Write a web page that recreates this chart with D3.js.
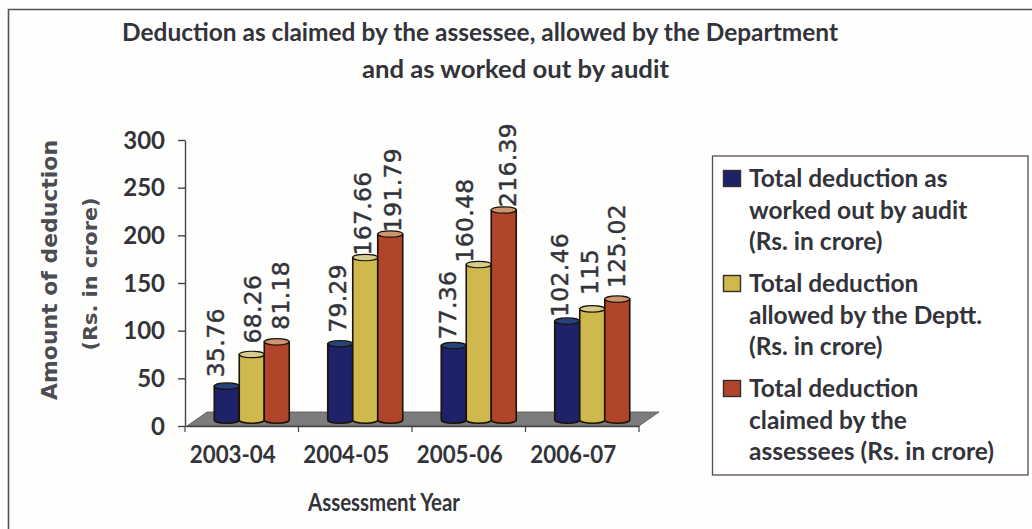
<!DOCTYPE html>
<html><head><meta charset="utf-8">
<script src="https://cdn.jsdelivr.net/npm/d3@7/dist/d3.min.js"></script>
<style>html,body{margin:0;padding:0;background:#fefefd}svg{display:block}text{fill:#33333a}</style>
</head><body><svg id="c" width="1032" height="529"></svg>
<script>
const categories = ["2003-04","2004-05","2005-06","2006-07"];
const audit   = [35.76,79.29,77.36,102.46];
const allowed = [68.26,167.66,160.48,115];
const claimed = [81.18,191.79,216.39,125.02];
const yTicks  = [0,50,100,150,200,250,300];
const seriesColors = ["#1e2268","#cfb94e","#b0452c"];
const seriesTops   = ["#24427c","#d6cc8c","#cc9670"];
const legendLines = [
  ["Total deduction as","worked out by audit","(Rs. in crore)"],
  ["Total deduction","allowed by the Deptt.","(Rs. in crore)"],
  ["Total deduction","claimed by the","assessees (Rs. in crore)"]];
// hand-placed label nudges seen in the reference (px, per series per category)
const labelDx = [[-11,-2,-6,-7],[1,-2,-14,-2],[4,3,4,0]];
const labelGap = [[9,11,6,4],[11,2,2,14],[12,2,3,11]];

const series=[audit,allowed,claimed];
const svg=d3.select("#c");
const SANS="Lato, 'Open Sans', sans-serif", DV="'DejaVu Sans', sans-serif";

// frame
svg.append("path").attr("d","M1032,9.5H8.5V529").attr("fill","none").attr("stroke","#55505a").attr("stroke-width",1.6);

function label(x,y,t,size,len,anchor,font,weight){
  const e=svg.append("text").attr("x",x).attr("y",y).text(t)
    .attr("font-family",font||SANS).attr("font-weight",weight||700).attr("font-size",size)
    .attr("text-anchor",anchor||"start");
  if(len) e.attr("textLength",len).attr("lengthAdjust","spacingAndGlyphs");
  return e;
}
label(122,41,"Deduction as claimed by the assessee, allowed by the Department",24,716);
label(362,78,"and as worked out by audit",24,307);

const y=d3.scaleLinear().domain([0,300]).range([426,140]);
const yBar=d3.scaleLinear().domain([0,300]).range([421,128.5]);
const x=d3.scaleBand().domain(categories).range([185,639]);
const xSeries=d3.scaleBand().domain([0,1,2]).range([0,75]);

// floor
const fx0=x.range()[0], fx1=x.range()[1];
svg.append("path").attr("d",`M${fx0+2},${y(0)}L${fx0+22},${y(0)-14}H${fx1+20}L${fx1},${y(0)}Z`)
  .attr("fill","#7c7c7c").attr("stroke","#555").attr("stroke-width",.8);

// axes
const ya=svg.append("g").attr("transform",`translate(${fx0},0)`).call(d3.axisLeft(y).tickValues(yTicks).tickSize(7).tickSizeOuter(0));
ya.selectAll("text").attr("font-family",SANS).attr("font-weight",700).attr("font-size",24).attr("x",-20).attr("dy","0.34em").style("fill","#33333a");
ya.selectAll("line,path").attr("stroke","#444").attr("stroke-width",1.4);
const xa=svg.append("g").attr("transform",`translate(0,${y(0)})`).call(d3.axisBottom(x).tickValues([]).tickSizeOuter(0));
xa.select("path").attr("stroke","#444").attr("stroke-width",1.4);
xa.selectAll("g.b").data(d3.range(categories.length+1)).enter().append("line")
  .attr("x1",i=>fx0+i*x.step()).attr("x2",i=>fx0+i*x.step()).attr("y1",0).attr("y2",6)
  .attr("stroke","#444").attr("stroke-width",1.2);
categories.forEach(c=>label(x(c)+x.bandwidth()/2-9,463,c,24,86,"middle"));
label(384,511,"Assessment Year",24,152,"middle");

// y title
label(0,0,"Amount of deduction",21.5,260,"middle",DV).attr("transform","translate(57,270) rotate(-90)").attr("fill-opacity",.9);
label(0,0,"(Rs. in crore)",20,153,"middle",DV).attr("transform","translate(97,274) rotate(-90)").attr("fill-opacity",.9);

// cylinders
const depth=10, ry=3.2;
categories.forEach((c,ci)=>{
  series.forEach((s,si)=>{
    const l=x(c)+x.bandwidth()/2-37.5+depth+xSeries(si), w=xSeries.bandwidth();
    const r=l+w, t=yBar(s[ci]), b=yBar(0);
    const rxx=w/2;
    svg.append("path").attr("d",`M${l},${t}L${l},${b-1}A${rxx},${ry} 0 0 0 ${r},${b-1}L${r},${t}Z`)
      .attr("fill",seriesColors[si]).attr("stroke","#1c1208").attr("stroke-width",1.6);
    svg.append("ellipse").attr("cx",l+rxx).attr("cy",t).attr("rx",rxx).attr("ry",ry)
      .attr("fill",seriesTops[si]).attr("stroke","#1c1208").attr("stroke-width",1.2);
    const lx=l+rxx+labelDx[si][ci], ly=t-labelGap[si][ci];
    svg.append("text").text(s[ci]).attr("transform",`translate(${lx+8},${ly}) rotate(-90)`)
      .attr("font-family",DV).attr("font-size",23.5).attr("letter-spacing",.3)
      .attr("stroke","#33333a").attr("stroke-width",.45);
  });
});

// legend
svg.append("rect").attr("x",712.5).attr("y",156).attr("width",315.5).attr("height",319)
  .attr("fill","#fff").attr("stroke","#5a4a50").attr("stroke-width",1.3);
const legendTop=[187,292,397];
legendLines.forEach((ls,i)=>{
  svg.append("rect").attr("x",723.5).attr("y",legendTop[i]-16.5).attr("width",17).attr("height",16)
    .attr("fill",seriesColors[i]).attr("stroke","#33302a").attr("stroke-width",1.4);
  ls.forEach((t,j)=>label(749,legendTop[i]+j*31.7,t,24.5));
});
</script></body></html>
